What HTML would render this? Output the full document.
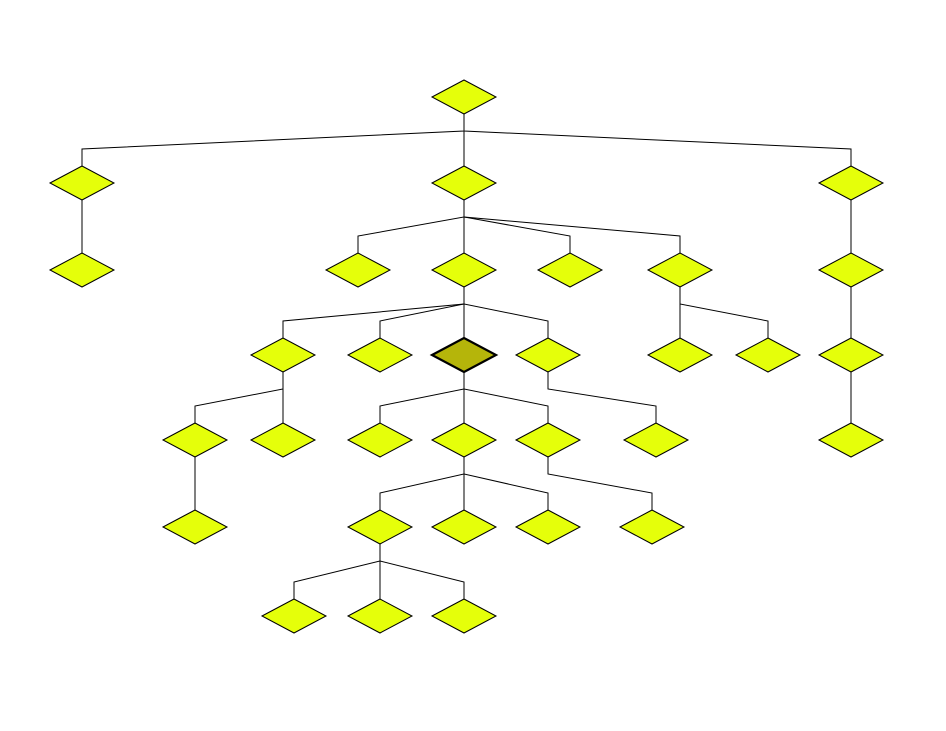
<!DOCTYPE html>
<html><head><meta charset="utf-8"><style>html,body{margin:0;padding:0;background:#fff;width:946px;height:731px;overflow:hidden}</style></head>
<body>
<svg width="946" height="731" viewBox="0 0 946 731" xmlns="http://www.w3.org/2000/svg">
<g fill="none" stroke="#000" stroke-width="1">
<path d="M464,114V131L82,149V166"/>
<path d="M464,114V131L464,149V166"/>
<path d="M464,114V131L851,149V166"/>
<path d="M82,200V253"/>
<path d="M464,200V217L358,236V253"/>
<path d="M464,200V217L464,236V253"/>
<path d="M464,200V217L570,236V253"/>
<path d="M464,200V217L680,236V253"/>
<path d="M851,200V253"/>
<path d="M464,287V304L283,321V338"/>
<path d="M464,287V304L380,321V338"/>
<path d="M464,287V304L464,321V338"/>
<path d="M464,287V304L548,321V338"/>
<path d="M680,287V304L680,321V338"/>
<path d="M680,287V304L768,321V338"/>
<path d="M851,287V338"/>
<path d="M283,372V389L195,406V423"/>
<path d="M283,372V389L283,406V423"/>
<path d="M464,372V389L380,406V423"/>
<path d="M464,372V389L464,406V423"/>
<path d="M464,372V389L548,406V423"/>
<path d="M548,372V389L656,406V423"/>
<path d="M851,372V423"/>
<path d="M195,457V510"/>
<path d="M464,457V474L380,493V510"/>
<path d="M464,457V474L464,493V510"/>
<path d="M464,457V474L548,493V510"/>
<path d="M548,457V474L652,493V510"/>
<path d="M380,544V561L294,582V599"/>
<path d="M380,544V561L380,582V599"/>
<path d="M380,544V561L464,582V599"/>
</g>
<g fill="#e5ff0a" stroke="#000" stroke-width="1">
<polygon points="432,97 464,80 496,97 464,114"/>
<polygon points="50,183 82,166 114,183 82,200"/>
<polygon points="432,183 464,166 496,183 464,200"/>
<polygon points="819,183 851,166 883,183 851,200"/>
<polygon points="50,270 82,253 114,270 82,287"/>
<polygon points="326,270 358,253 390,270 358,287"/>
<polygon points="432,270 464,253 496,270 464,287"/>
<polygon points="538,270 570,253 602,270 570,287"/>
<polygon points="648,270 680,253 712,270 680,287"/>
<polygon points="819,270 851,253 883,270 851,287"/>
<polygon points="251,355 283,338 315,355 283,372"/>
<polygon points="348,355 380,338 412,355 380,372"/>
<polygon points="516,355 548,338 580,355 548,372"/>
<polygon points="648,355 680,338 712,355 680,372"/>
<polygon points="736,355 768,338 800,355 768,372"/>
<polygon points="819,355 851,338 883,355 851,372"/>
<polygon points="163,440 195,423 227,440 195,457"/>
<polygon points="251,440 283,423 315,440 283,457"/>
<polygon points="348,440 380,423 412,440 380,457"/>
<polygon points="432,440 464,423 496,440 464,457"/>
<polygon points="516,440 548,423 580,440 548,457"/>
<polygon points="624,440 656,423 688,440 656,457"/>
<polygon points="819,440 851,423 883,440 851,457"/>
<polygon points="163,527 195,510 227,527 195,544"/>
<polygon points="348,527 380,510 412,527 380,544"/>
<polygon points="432,527 464,510 496,527 464,544"/>
<polygon points="516,527 548,510 580,527 548,544"/>
<polygon points="620,527 652,510 684,527 652,544"/>
<polygon points="262,616 294,599 326,616 294,633"/>
<polygon points="348,616 380,599 412,616 380,633"/>
<polygon points="432,616 464,599 496,616 464,633"/>
</g>
<polygon points="432,355 464,338 496,355 464,372" fill="#b5b50a" stroke="#000" stroke-width="2.2"/>
</svg>
</body></html>
